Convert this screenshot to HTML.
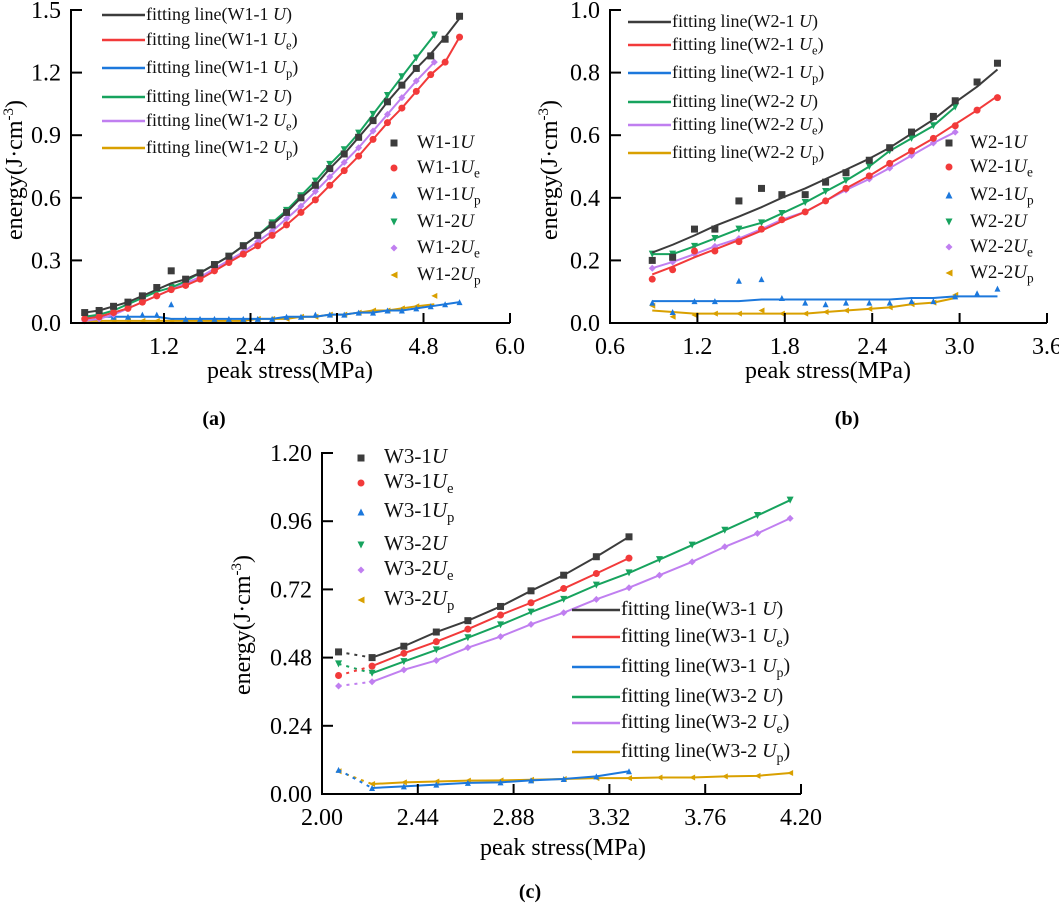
<!DOCTYPE html>
<html><head><meta charset="utf-8">
<style>
html,body{margin:0;padding:0;background:#fff;}
#wrap{position:relative;width:1059px;height:905px;overflow:hidden;font-family:"Liberation Serif",serif;}
svg{position:absolute;left:0;top:0;}
svg text{font-family:"Liberation Serif","Times New Roman",serif;}
.lg{position:absolute;white-space:nowrap;line-height:1;color:#111;font-family:"Liberation Serif",serif;}
.lg i{font-style:italic;}
.lg sub{font-size:0.7em;vertical-align:-0.35em;line-height:0;}
</style></head>
<body>
<div id="wrap">
<svg id="fig" width="1059" height="905" xmlns="http://www.w3.org/2000/svg"></svg>
</div>
<script>
// ---------- Panel (a) data ----------
const aX = [0.1,0.3,0.5,0.7,0.9,1.1,1.3,1.5,1.7,1.9,2.1,2.3,2.5,2.7,2.9,3.1,3.3,3.5,3.7,3.9,4.1,4.3,4.5,4.7,4.9,5.1,5.3];
const aU1 = [0.05,0.06,0.08,0.10,0.13,0.17,0.25,0.21,0.24,0.28,0.32,0.37,0.42,0.47,0.53,0.60,0.66,0.74,0.81,0.89,0.97,1.06,1.14,1.22,1.28,1.36,1.47];
const aU1Fit = [0.05,0.06,0.08,0.10,0.13,0.16,0.19,0.21,0.24,0.28,0.32,0.37,0.42,0.47,0.53,0.60,0.66,0.74,0.81,0.89,0.97,1.06,1.14,1.22,1.29,1.37,1.46];
const aUe1 = [0.02,0.03,0.05,0.07,0.10,0.13,0.16,0.18,0.21,0.25,0.29,0.33,0.37,0.42,0.47,0.53,0.59,0.66,0.73,0.80,0.88,0.96,1.03,1.11,1.19,1.25,1.37];
const aUp1 = [0.03,0.03,0.03,0.03,0.04,0.04,0.09,0.02,0.02,0.02,0.02,0.02,0.02,0.02,0.03,0.03,0.04,0.04,0.04,0.05,0.05,0.06,0.06,0.07,0.08,0.09,0.10];
const aUp1Fit = [0.03,0.03,0.03,0.03,0.03,0.03,0.02,0.02,0.02,0.02,0.02,0.02,0.02,0.02,0.03,0.03,0.03,0.04,0.04,0.05,0.05,0.06,0.06,0.07,0.08,0.09,0.10];
const aX2 = [0.1,0.3,0.5,0.7,0.9,1.1,1.3,1.5,1.7,1.9,2.1,2.3,2.5,2.7,2.9,3.1,3.3,3.5,3.7,3.9,4.1,4.3,4.5,4.7,4.95];
const aU2 = [0.03,0.04,0.06,0.09,0.12,0.15,0.17,0.20,0.24,0.28,0.32,0.37,0.42,0.48,0.54,0.61,0.68,0.76,0.83,0.91,1.00,1.09,1.18,1.27,1.38];
const aUe2 = [0.01,0.02,0.04,0.07,0.10,0.13,0.16,0.19,0.22,0.26,0.30,0.34,0.39,0.44,0.50,0.56,0.63,0.70,0.77,0.84,0.92,1.00,1.08,1.16,1.25];
const aUp2 = [0.02,0.01,0.01,0.01,0.01,0.01,0.01,0.01,0.01,0.01,0.01,0.01,0.02,0.02,0.02,0.03,0.03,0.04,0.04,0.05,0.06,0.06,0.07,0.08,0.13];
const aUp2Fit = [0.01,0.01,0.01,0.01,0.01,0.01,0.01,0.01,0.01,0.01,0.01,0.01,0.02,0.02,0.02,0.03,0.03,0.04,0.04,0.05,0.06,0.06,0.07,0.08,0.09];
const aXTicks = [1.2,2.4,3.6,4.8,6.0];
const aYTicks = [0.0,0.3,0.6,0.9,1.2,1.5];
// ---------- Panel (b) data ----------
const bX1 = [0.89,1.03,1.18,1.32,1.485,1.64,1.78,1.94,2.08,2.22,2.38,2.52,2.67,2.82,2.97,3.12,3.26];
const bU1 = [0.20,0.21,0.30,0.30,0.39,0.43,0.41,0.41,0.45,0.48,0.52,0.56,0.61,0.66,0.71,0.77,0.83];
const bU1Fit = [0.225,0.25,0.28,0.31,0.34,0.37,0.40,0.43,0.46,0.49,0.525,0.56,0.605,0.65,0.705,0.755,0.81];
const bUe1 = [0.14,0.17,0.23,0.23,0.26,0.30,0.33,0.355,0.39,0.43,0.47,0.51,0.55,0.59,0.63,0.68,0.72];
const bUe1Fit = [0.155,0.18,0.21,0.235,0.265,0.295,0.325,0.355,0.39,0.43,0.47,0.51,0.55,0.59,0.635,0.68,0.725];
const bUp1 = [0.065,0.035,0.07,0.07,0.135,0.14,0.08,0.065,0.06,0.065,0.065,0.065,0.07,0.07,0.085,0.095,0.11];
const bUp1Fit = [0.07,0.07,0.07,0.07,0.07,0.075,0.075,0.075,0.075,0.075,0.075,0.075,0.08,0.08,0.085,0.085,0.085];
const bX2 = [0.89,1.03,1.18,1.32,1.485,1.64,1.78,1.94,2.08,2.22,2.38,2.52,2.67,2.82,2.97];
const bU2 = [0.22,0.22,0.245,0.27,0.30,0.32,0.35,0.385,0.42,0.455,0.50,0.55,0.59,0.63,0.69];
const bUe2 = [0.175,0.195,0.22,0.245,0.27,0.30,0.33,0.355,0.39,0.425,0.46,0.495,0.535,0.575,0.61];
const bUp2 = [0.055,0.02,0.025,0.03,0.03,0.04,0.03,0.03,0.035,0.04,0.045,0.05,0.06,0.065,0.09];
const bUp2Fit = [0.04,0.035,0.03,0.03,0.03,0.03,0.03,0.03,0.035,0.04,0.045,0.05,0.06,0.065,0.08];
const bXTicks = [0.6,1.2,1.8,2.4,3.0,3.6];
const bYTicks = [0.0,0.2,0.4,0.6,0.8,1.0];
// ---------- Panel (c) data ----------
const cX1 = [2.076,2.23,2.376,2.525,2.67,2.82,2.96,3.11,3.26,3.41];
const cU1 = [0.50,0.48,0.52,0.57,0.61,0.66,0.715,0.77,0.835,0.905];
const cUe1 = [0.417,0.45,0.495,0.536,0.58,0.63,0.673,0.723,0.776,0.83];
const cUp1 = [0.085,0.021,0.027,0.033,0.039,0.041,0.048,0.053,0.062,0.08];
const cX2 = [2.076,2.23,2.376,2.525,2.67,2.82,2.96,3.11,3.26,3.41,3.55,3.70,3.85,4.0,4.15];
const cU2 = [0.458,0.425,0.466,0.507,0.55,0.595,0.64,0.685,0.735,0.778,0.825,0.876,0.928,0.98,1.034];
const cUe2 = [0.38,0.395,0.437,0.47,0.515,0.554,0.597,0.638,0.685,0.726,0.77,0.817,0.87,0.917,0.97];
const cUp2 = [0.08,0.035,0.041,0.044,0.047,0.048,0.05,0.053,0.056,0.056,0.058,0.058,0.062,0.064,0.074];
const cXTicks = [2.00,2.44,2.88,3.32,3.76,4.20];
const cYTicks = [0.00,0.24,0.48,0.72,0.96,1.20];

const COL = {U1:'#3c3c3c',Ue1:'#f23a3a',Up1:'#1c78dc',U2:'#17a35e',Ue2:'#c07ff0',Up2:'#d9a000'};
const svg = document.getElementById('fig');
const NS = 'http://www.w3.org/2000/svg';
function mk(tag, attrs, parent){const e=document.createElementNS(NS,tag);for(const k in attrs)e.setAttribute(k,attrs[k]);(parent||svg).appendChild(e);return e;}

function scale(v0,p0,v1,p1){return v=>p0+(v-v0)*(p1-p0)/(v1-v0);}

function marker(g, kind, px, py, color, s){
  let e;
  if(kind==='sq'){e=mk('rect',{x:px-s/2,y:py-s/2,width:s,height:s,fill:color},g);}
  else if(kind==='ci'){e=mk('circle',{cx:px,cy:py,r:s/2,fill:color},g);}
  else if(kind==='tu'){e=mk('polygon',{points:`${px},${py-s/2} ${px-s/2},${py+s/2} ${px+s/2},${py+s/2}`,fill:color},g);}
  else if(kind==='td'){e=mk('polygon',{points:`${px},${py+s/2} ${px-s/2},${py-s/2} ${px+s/2},${py-s/2}`,fill:color},g);}
  else if(kind==='di'){e=mk('polygon',{points:`${px},${py-s/2} ${px+s/2},${py} ${px},${py+s/2} ${px-s/2},${py}`,fill:color},g);}
  else {e=mk('polygon',{points:`${px-s/2},${py} ${px+s/2},${py-s/2} ${px+s/2},${py+s/2}`,fill:color},g);}
  return e;
}

function series(g, xs, ys, fit, X, Y, color, kind, size, name, dashFirst){
  const fy = fit || ys;
  const start = dashFirst ? 1 : 0;
  let pts=[];
  for(let i=start;i<xs.length;i++){pts.push(X(xs[i])+','+Y(fy[i]));}
  const line=mk('polyline',{points:pts.join(' '),fill:'none',stroke:color,'stroke-width':2,'stroke-linejoin':'round'},g);
  
  
  if(dashFirst){
    const dl=mk('line',{x1:X(xs[0]),y1:Y(ys[0]),x2:X(xs[1]),y2:Y(ys[1]),stroke:color,'stroke-width':2,'stroke-dasharray':'3,5'},g);
    
    
  }
  for(let i=0;i<xs.length;i++){
    const m=marker(g,kind,X(xs[i]),Y(ys[i]),color,size);
    
    
  }
}

function axes(g, X, Y, axX, axY0, axY1, xEnd, xTicks, yTicks, dec, fsz){
  const a1=mk('line',{x1:axX,y1:axY1-1,x2:axX,y2:axY0+1,stroke:'#000','stroke-width':2},g);
  
  
  const a2=mk('line',{x1:axX-1,y1:axY0,x2:xEnd,y2:axY0,stroke:'#000','stroke-width':2},g);
  
  
  xTicks.forEach(v=>{
    const px=X(v);
    if(Math.abs(px-axX)>2){
      const t=mk('line',{x1:px,y1:axY0,x2:px,y2:axY0-10,stroke:'#000','stroke-width':2},g);
      
      
    }
    const tx=mk('text',{x:px,y:axY0+31,'text-anchor':'middle','font-size':fsz},g);
    tx.textContent=v.toFixed(dec[0]);
    
    
  });
  yTicks.forEach(v=>{
    const py=Y(v);
    const t=mk('line',{x1:axX,y1:py,x2:axX+11,y2:py,stroke:'#000','stroke-width':2},g);
    
    
    const tx=mk('text',{x:axX-10,y:py+8,'text-anchor':'end','font-size':fsz},g);
    tx.textContent=v.toFixed(dec[1]);
    
    
  });
}

function titles(g, xcx, xby, ycx, ycy, lab, lx, ly){
  const xt=mk('text',{x:xcx,y:xby,'text-anchor':'middle','font-size':24},g);
  xt.textContent='peak stress(MPa)';
  
  
  const yt=mk('text',{x:0,y:0,'text-anchor':'middle','font-size':24,transform:`translate(${ycx},${ycy}) rotate(-90)`},g);
  yt.innerHTML='energy(J·cm<tspan dy="-9" font-size="15">-3</tspan><tspan dy="9">)</tspan>';
  
  
  const pl=mk('text',{x:lx,y:ly,'text-anchor':'middle','font-size':20,'font-weight':'bold'},g);
  pl.innerHTML='(<tspan>'+lab+'</tspan>)';
  
  
}

const wrap=document.getElementById('wrap');
function legendText(left, cy, html, fs, name){
  const d=document.createElement('div');
  d.className='lg';
  d.style.left=left+'px'; d.style.top=(cy-fs*0.55)+'px'; d.style.fontSize=fs+'px';
  d.innerHTML=html;
  
  
  wrap.appendChild(d);
}
function sub(s){return s?'<sub>'+s+'</sub>':'';}

function legends(g, id, fitX0, fitX1, fitRows, fitFs, scX, scTx, scRows, scFs){
  const keys=['U1','Ue1','Up1','U2','Ue2','Up2'];
  const kinds=['sq','ci','tu','td','di','tl'];
  const subs=['','e','p','','e','p'];
  const spec=['-1','-1','-1','-2','-2','-2'];
  keys.forEach((k,i)=>{
    const l=mk('line',{x1:fitX0,y1:fitRows[i],x2:fitX1,y2:fitRows[i],stroke:COL[k],'stroke-width':2.5},g);
    
    
    legendText(fitX1+1, fitRows[i], 'fitting line(W'+id+spec[i]+' <i>U</i>'+sub(subs[i])+')', fitFs, 'legend-fit-'+k.toLowerCase());
    const m=marker(g,kinds[i],scX,scRows[i],COL[k],7);
    
    
    legendText(scTx, scRows[i], 'W'+id+spec[i]+'<i>U</i>'+sub(subs[i]), scFs, 'legend-entry-'+k.toLowerCase());
  });
}

function panel(id, cfg){
  const g=mk('g',{});
  
  
  const X=cfg.X, Y=cfg.Y, d=cfg.d, f=cfg.f||{};
  series(g,d.x2,d.up2,f.up2,X,Y,COL.Up2,'tl',6,'w'+id+'-2-up',cfg.dash);
  series(g,d.x1,d.up1,f.up1,X,Y,COL.Up1,'tu',6,'w'+id+'-1-up',cfg.dash);
  series(g,d.x2,d.ue2,f.ue2,X,Y,COL.Ue2,'di',7,'w'+id+'-2-ue',cfg.dash);
  series(g,d.x2,d.u2,f.u2,X,Y,COL.U2,'td',7,'w'+id+'-2-u',cfg.dash);
  series(g,d.x1,d.ue1,f.ue1,X,Y,COL.Ue1,'ci',7,'w'+id+'-1-ue',cfg.dash);
  series(g,d.x1,d.u1,f.u1,X,Y,COL.U1,'sq',7,'w'+id+'-1-u',cfg.dash);
  axes(g,X,Y,cfg.axX,cfg.axY0,cfg.axY1,cfg.xEnd,cfg.xt,cfg.yt,cfg.dec,24);
  titles(g,cfg.xtc[0],cfg.xtc[1],cfg.ytc[0],cfg.ytc[1],cfg.lab,cfg.pl[0],cfg.pl[1]);
  legends(g,id,cfg.lf[0],cfg.lf[1],cfg.lfr,cfg.lffs,cfg.ls[0],cfg.ls[1],cfg.lsr,cfg.lsfs);
}

panel('1',{lab:'a',X:scale(1.2,164,6.0,510),Y:scale(0,323,1.5,10),axX:71,axY0:323,axY1:10,xEnd:510,
  xt:aXTicks,yt:aYTicks,dec:[1,1],
  d:{x1:aX,u1:aU1,ue1:aUe1,up1:aUp1,x2:aX2,u2:aU2,ue2:aUe2,up2:aUp2},
  f:{u1:aU1Fit,up1:aUp1Fit,up2:aUp2Fit},
  xtc:[290,378],ytc:[22,170],pl:[214,425],
  lf:[102,145],lfr:[15,40,68,97,121,148],lffs:18,ls:[394,417],lsr:[143,168,195,222,248,275],lsfs:19});
panel('2',{lab:'b',X:scale(0.6,610,3.6,1047),Y:scale(0,323,1.0,10),axX:610,axY0:323,axY1:10,xEnd:1047,
  xt:bXTicks,yt:bYTicks,dec:[1,1],
  d:{x1:bX1,u1:bU1,ue1:bUe1,up1:bUp1,x2:bX2,u2:bU2,ue2:bUe2,up2:bUp2},
  f:{u1:bU1Fit,ue1:bUe1Fit,up1:bUp1Fit,up2:bUp2Fit},
  xtc:[828,378],ytc:[557,170],pl:[847,425],
  lf:[628,671],lfr:[22,45,73,102,125,153],lffs:18,ls:[949,970],lsr:[143,167,195,222,247,273],lsfs:19});
panel('3',{lab:'c',X:scale(2.0,322,4.2,801),Y:scale(0,794,1.2,453),axX:322,axY0:794,axY1:453,xEnd:801,
  xt:cXTicks,yt:cYTicks,dec:[2,2],dash:true,
  d:{x1:cX1,u1:cU1,ue1:cUe1,up1:cUp1,x2:cX2,u2:cU2,ue2:cUe2,up2:cUp2},
  xtc:[563,855],ytc:[250,625],pl:[530,898],
  lf:[572,620],lfr:[610,637,667,697,723,752],lffs:20,ls:[361,384],lsr:[458,483,512,545,570,600],lsfs:21});
</script>
</body></html>
